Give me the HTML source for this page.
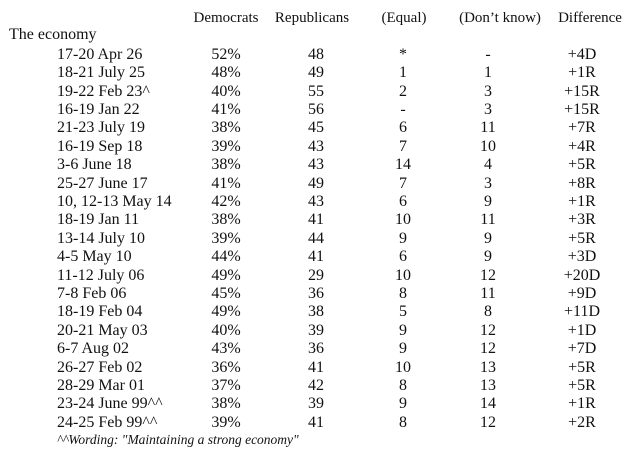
<!DOCTYPE html>
<html><head><style>
body{margin:0;width:628px;height:456px;background:#fff;font-family:"Liberation Serif",serif;font-size:15px;color:#111;position:relative;overflow:hidden}
.r{position:absolute;left:0;width:628px;height:18.4px;line-height:18.4px;white-space:nowrap}
.d{font-size:16px}
.r span{position:absolute;top:0}
.c{transform:translateX(-50%)}
</style></head><body>
<div class="r" style="top:9px">
<span class="c" style="left:226px">Democrats</span>
<span class="c" style="left:312px">Republicans</span>
<span class="c" style="left:404px">(Equal)</span>
<span class="c" style="left:500px">(Don’t know)</span>
<span class="c" style="left:590px">Difference</span>
</div>
<div class="r d" style="top:26px"><span style="left:9px">The economy</span></div>
<div id="rows"></div>
<div class="r" style="top:431px;font-style:italic;font-size:13.5px"><span style="left:57px">^^Wording: "Maintaining a strong economy"</span></div>
<script>
var d=[["17-20 Apr 26","52%","48","*","-","+4D"],["18-21 July 25","48%","49","1","1","+1R"],["19-22 Feb 23^","40%","55","2","3","+15R"],["16-19 Jan 22","41%","56","-","3","+15R"],["21-23 July 19","38%","45","6","11","+7R"],["16-19 Sep 18","39%","43","7","10","+4R"],["3-6 June 18","38%","43","14","4","+5R"],["25-27 June 17","41%","49","7","3","+8R"],["10, 12-13 May 14","42%","43","6","9","+1R"],["18-19 Jan 11","38%","41","10","11","+3R"],["13-14 July 10","39%","44","9","9","+5R"],["4-5 May 10","44%","41","6","9","+3D"],["11-12 July 06","49%","29","10","12","+20D"],["7-8 Feb 06","45%","36","8","11","+9D"],["18-19 Feb 04","49%","38","5","8","+11D"],["20-21 May 03","40%","39","9","12","+1D"],["6-7 Aug 02","43%","36","9","12","+7D"],["26-27 Feb 02","36%","41","10","13","+5R"],["28-29 Mar 01","37%","42","8","13","+5R"],["23-24 June 99^^","38%","39","9","14","+1R"],["24-25 Feb 99^^","39%","41","8","12","+2R"]];
var xs=[226,316,403,488,582],h="";
d.forEach(function(r,i){h+='<div class="r d" style="top:'+(45.8+18.4*i)+'px"><span style="left:57px">'+r[0]+'</span>';for(var j=1;j<6;j++)h+='<span class="c" style="left:'+xs[j-1]+'px">'+r[j]+'</span>';h+='</div>';});
document.getElementById("rows").innerHTML=h;
</script>
</body></html>
